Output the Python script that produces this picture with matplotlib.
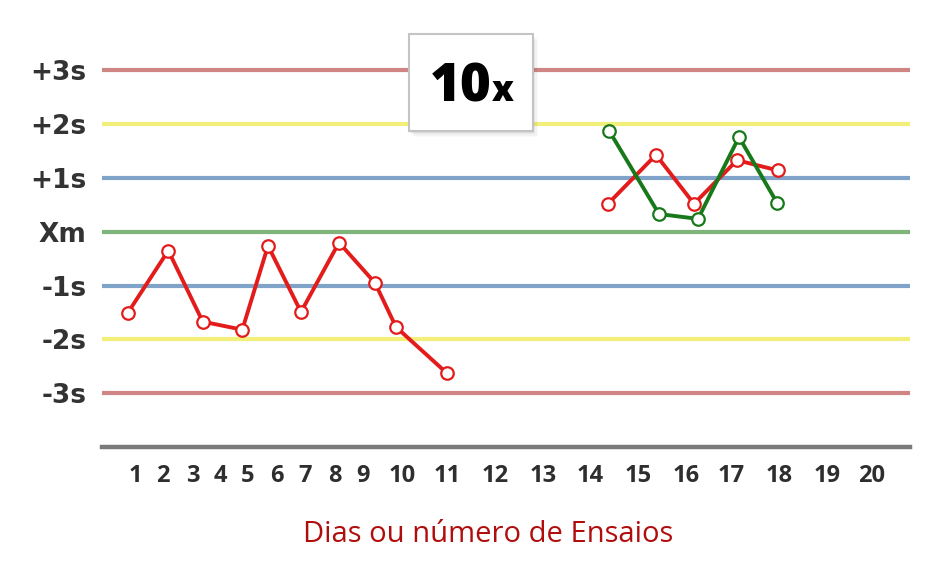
import matplotlib
matplotlib.use("Agg")
import matplotlib.pyplot as plt
from matplotlib.patches import Rectangle

# y levels (in standard deviations) and their labels
levels = [3, 2, 1, 0, -1, -2, -3]
level_labels = ['+3s', '+2s', '+1s', 'Xm', '-1s', '-2s', '-3s']
level_colors = ['#d08585', '#f2f07a', '#7fa3c9', '#7fb57a', '#7fa3c9', '#f2f07a', '#d08585']

# day labels along the bottom (horizontal position units)
day_labels = [str(d) for d in range(1, 21)]
day_pos = [3.3, 6.1, 9.1, 11.8, 14.6, 17.5, 20.3, 23.3, 26.1, 30.0,
           34.5, 39.3, 44.1, 48.8, 53.6, 58.4, 62.9, 67.7, 72.5, 77.0]

# control runs
red_a_x = [2.57, 6.63, 10.07, 14.03, 16.6, 19.9, 23.7, 27.3, 29.4, 34.5]
red_a_y = [-1.51, -0.35, -1.67, -1.82, -0.26, -1.49, -0.20, -0.95, -1.77, -2.63]
red_b_x = [50.6, 55.4, 59.2, 63.5, 67.6]
red_b_y = [0.52, 1.43, 0.52, 1.33, 1.14]
green_x = [50.7, 55.7, 59.6, 63.7, 67.5]
green_y = [1.88, 0.33, 0.24, 1.76, 0.54]

plt.rcParams['font.family'] = ['Open Sans', 'DejaVu Sans']

fig = plt.figure(figsize=(9.44, 5.61), dpi=100)
ax = fig.add_axes([102/944, (561-447)/561, 808/944, 417/561])
ax.set_xlim(0, 80.8)
ax.set_ylim(-4, 3.75)

for lv, c in zip(levels, level_colors):
    ax.axhline(lv, color=c, lw=3, zorder=1)
ax.axhline(-4, color='#7a7a7a', lw=3.2, zorder=1, clip_on=False)

red = '#e31b1b'
green = '#17791a'
mk = dict(marker='o', ms=9, mfc='white', mew=1.6, lw=2.8, zorder=3)
ax.plot(red_a_x, red_a_y, color=red, mec=red, **mk)
ax.plot(red_b_x, red_b_y, color=red, mec=red, **mk)
ax.plot(green_x, green_y, color=green, mec=green, **mk)

ax.set_yticks(levels, level_labels)
ax.set_xticks(day_pos, day_labels)
ax.tick_params(axis='y', length=0, pad=11, labelcolor='#333333')
ax.tick_params(axis='x', length=0, pad=12, labelsize=17, labelcolor='#2e2e2e')
for t in ax.get_yticklabels():
    t.set_fontweight('bold')
    t.set_fontfamily('DejaVu Sans')
    t.set_fontsize(19)
for t in ax.get_xticklabels():
    t.set_fontweight('bold')
for s in ax.spines.values():
    s.set_visible(False)
ax.set_xlabel('Dias ou número de Ensaios', color='#b00d0d', fontsize=21)
ax.xaxis.set_label_coords(386/808, -0.175)

# "10x" rule box with soft shadow
bx, by, bw, bh = 409/944, (561-131)/561, 124/944, 97/561
for i, a in enumerate([0.05, 0.04, 0.03, 0.02]):
    off = (i + 1) * 1.5
    fig.patches.append(Rectangle((bx + off/944 - 1/944, by - off/561), bw, bh,
                                 transform=fig.transFigure, facecolor='black',
                                 edgecolor='none', alpha=a, zorder=4))
fig.patches.append(Rectangle((bx, by), bw, bh, transform=fig.transFigure,
                             facecolor='white', edgecolor='#c4c4c4', lw=1.5, zorder=5))
fig.text(461/944, (561-101)/561, '10', fontsize=38, fontweight='heavy',
         ha='center', va='baseline', color='black', zorder=6)
fig.text(492/944, (561-101)/561, 'x', fontsize=25, fontweight='heavy',
         ha='left', va='baseline', color='black', zorder=6)

fig.savefig('out.png', dpi=100)
